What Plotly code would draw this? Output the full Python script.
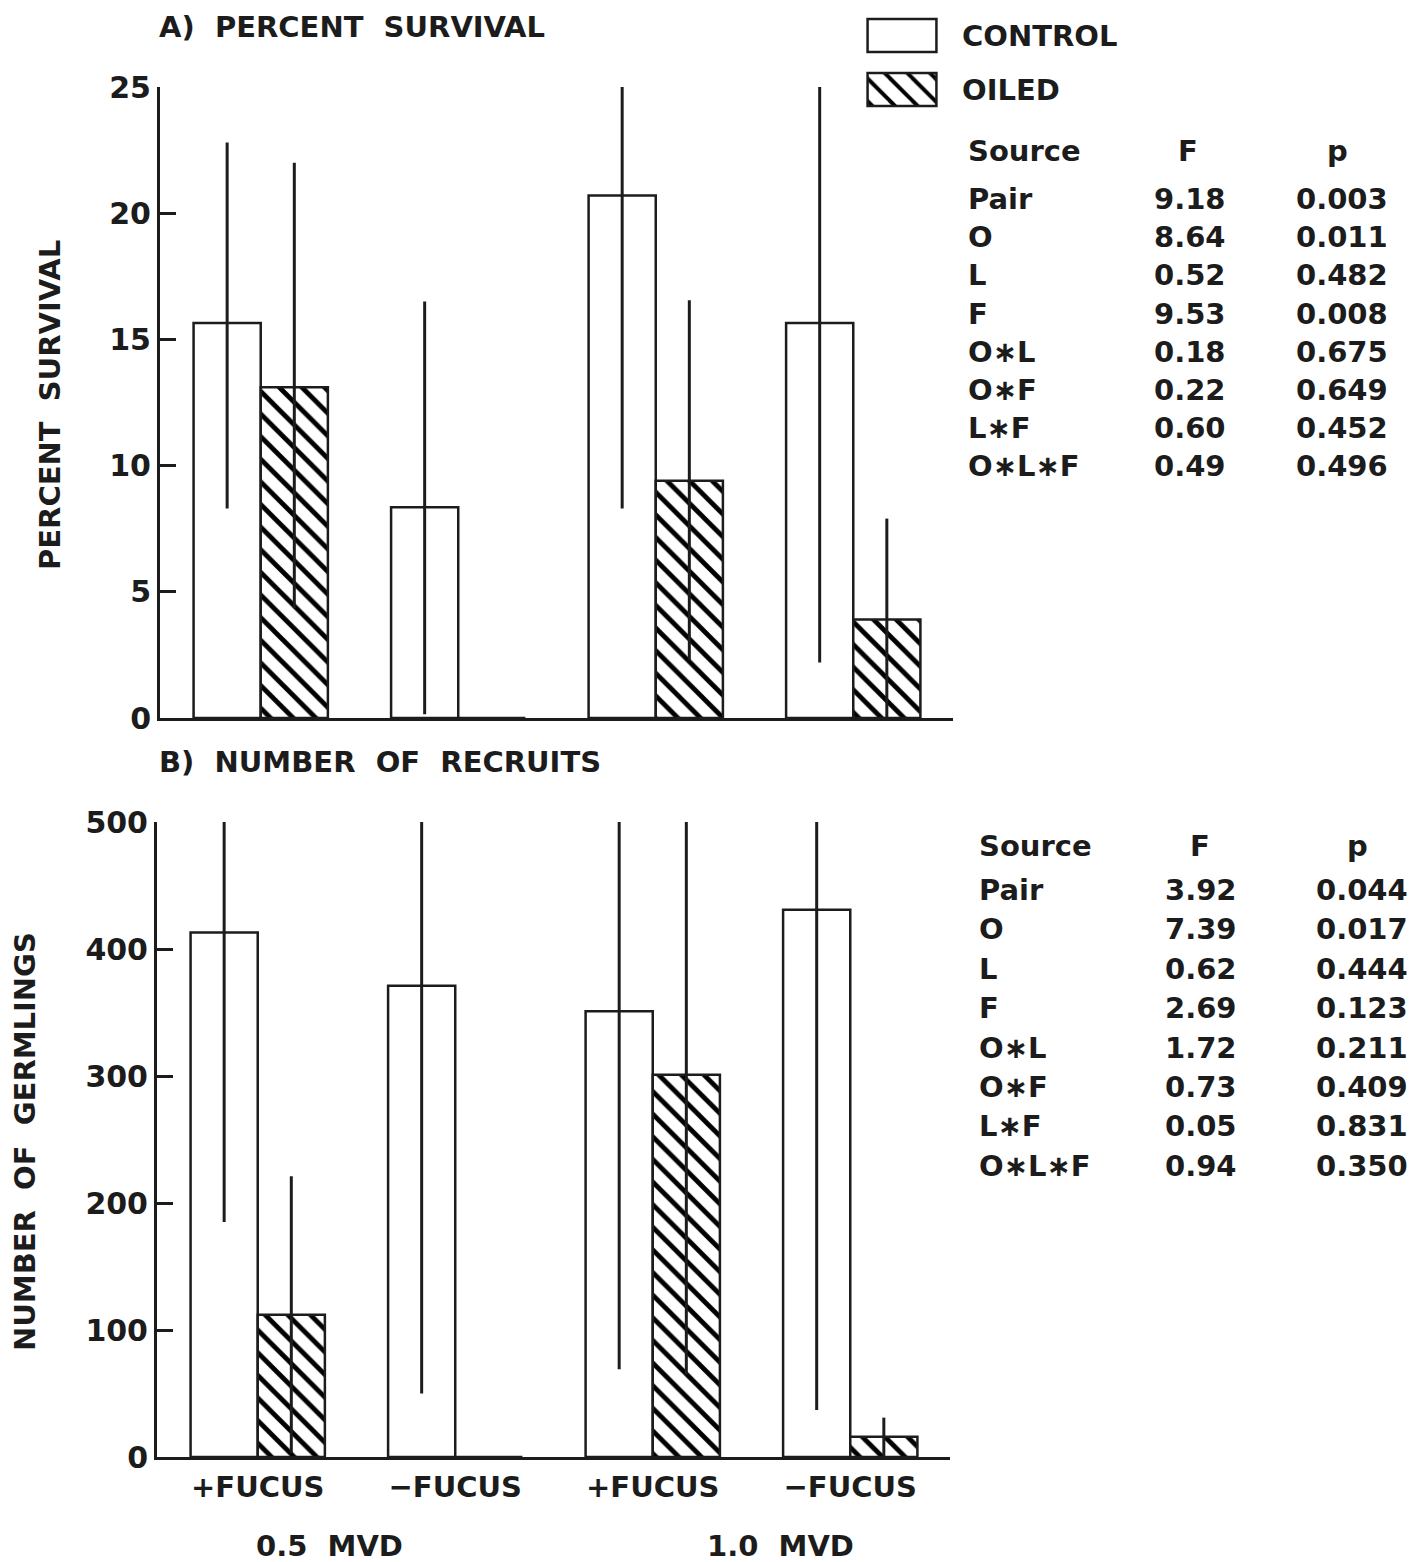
import plotly.graph_objects as go

# ---------------- data ----------------
group_labels = ["+FUCUS", "−FUCUS", "+FUCUS", "−FUCUS"]
group_pos = [0, 1, 2, 3]
mvd_labels = ["0.5  MVD", "1.0  MVD"]

surv_control = [15.65, 8.35, 20.7, 15.65]
surv_control_lo = [8.3, 0.15, 8.3, 2.2]
surv_control_hi = [22.8, 16.5, 25.0, 25.0]
surv_oiled = [13.1, 0.0, 9.4, 3.9]
surv_oiled_lo = [4.35, 0.0, 2.3, 0.0]
surv_oiled_hi = [22.0, 0.0, 16.55, 7.9]

rec_control = [413, 371, 351, 431]
rec_control_lo = [185, 50, 69, 37]
rec_control_hi = [500, 500, 500, 500]
rec_oiled = [112, 0, 301, 16]
rec_oiled_lo = [3, 0, 65, 0]
rec_oiled_hi = [221, 0, 500, 31]

surv_ticks = [0, 5, 10, 15, 20, 25]
rec_ticks = [0, 100, 200, 300, 400, 500]

sources = ["Pair", "O", "L", "F", "O∗L", "O∗F", "L∗F", "O∗L∗F"]
F_A = ["9.18", "8.64", "0.52", "9.53", "0.18", "0.22", "0.60", "0.49"]
p_A = ["0.003", "0.011", "0.482", "0.008", "0.675", "0.649", "0.452", "0.496"]
F_B = ["3.92", "7.39", "0.62", "2.69", "1.72", "0.73", "0.05", "0.94"]
p_B = ["0.044", "0.017", "0.444", "0.123", "0.211", "0.409", "0.831", "0.350"]

legend_names = ["CONTROL", "OILED"]

# ---------------- styling ----------------
OFF = 8                      # page body margin of the browser
W, H = 1426 - OFF, 1562 - OFF
INK = "#1c1c1c"
FONT = "DejaVu Sans"


def fnt(size=29):
    return dict(family=FONT, size=size, color=INK, weight="bold")


def px(x):
    return (x - OFF) / W


def py(y):
    return 1 - (y - OFF) / H


def err(val, lo, hi):
    return dict(type="data", symmetric=False,
                array=[h - v for v, h in zip(val, hi)],
                arrayminus=[v - l for v, l in zip(val, lo)],
                color=INK, thickness=3, width=0, visible=True)


def hatch(n):
    return dict(shape=["\\"] * n, fgcolor="#000000", fgopacity=1,
                bgcolor="white", size=16, solidity=0.3)


outline = dict(color=INK, width=2.5)

fig = go.Figure()

# Panel A
fig.add_trace(go.Bar(x=group_pos, y=surv_control, name="CONTROL",
                     marker=dict(color="white", line=outline),
                     error_y=err(surv_control, surv_control_lo, surv_control_hi),
                     xaxis="x", yaxis="y", showlegend=False))
fig.add_trace(go.Bar(x=group_pos, y=surv_oiled, name="OILED",
                     marker=dict(color="white", line=outline, pattern=hatch(len(surv_oiled))),
                     error_y=err(surv_oiled, surv_oiled_lo, surv_oiled_hi),
                     xaxis="x", yaxis="y", showlegend=False))
# Panel B
fig.add_trace(go.Bar(x=group_pos, y=rec_control, name="CONTROL",
                     marker=dict(color="white", line=outline),
                     error_y=err(rec_control, rec_control_lo, rec_control_hi),
                     xaxis="x2", yaxis="y2", showlegend=False))
fig.add_trace(go.Bar(x=group_pos, y=rec_oiled, name="OILED",
                     marker=dict(color="white", line=outline, pattern=hatch(len(rec_oiled))),
                     error_y=err(rec_oiled, rec_oiled_lo, rec_oiled_hi),
                     xaxis="x2", yaxis="y2", showlegend=False))

# Legend swatches (drawn as bars in a small hidden subplot)
fig.add_trace(go.Bar(y=[1, 0], x=[1, 1], orientation="h", width=0.61,
                     marker=dict(color="white", line=outline,
                                 pattern=dict(shape=["", "\\"], fgcolor="#000000",
                                              fgopacity=1, bgcolor="white",
                                              size=16, solidity=0.25)),
                     xaxis="x3", yaxis="y3", showlegend=False, hoverinfo="skip"))

ax_common = dict(showline=True, linewidth=3, linecolor=INK, showgrid=False,
                 zeroline=False, mirror=False, automargin=False)

fig.update_layout(
    width=W, height=H,
    margin=dict(l=0, r=0, t=0, b=0, pad=0, autoexpand=False),
    paper_bgcolor="white", plot_bgcolor="rgba(0,0,0,0)",
    barmode="group", bargap=0.32, bargroupgap=0,
    showlegend=False,
    xaxis=dict(domain=[px(160), px(953)], range=[-0.51, 3.505],
               tickvals=group_pos, showticklabels=False, ticks="",
               anchor="y", **ax_common),
    yaxis=dict(domain=[py(718), py(87)], range=[0, 25], tickvals=surv_ticks,
               ticks="inside", ticklen=16, tickwidth=3, tickcolor=INK,
               tickfont=fnt(30), anchor="x", **ax_common),
    xaxis2=dict(domain=[px(157), px(950)], range=[-0.51, 3.505],
                tickvals=group_pos, ticktext=group_labels, ticks="",
                tickfont=fnt(29), ticklabelstandoff=2,
                anchor="y2", **ax_common),
    yaxis2=dict(domain=[py(1457), py(822)], range=[0, 500], tickvals=rec_ticks,
                ticks="inside", ticklen=16, tickwidth=3, tickcolor=INK,
                tickfont=fnt(30), anchor="x2", **ax_common),
    xaxis3=dict(domain=[px(865.5), px(938.5)], range=[-0.03, 1.03],
                visible=False, anchor="y3", fixedrange=True, automargin=False),
    yaxis3=dict(domain=[py(116.5), py(8.5)], range=[-0.5, 1.5],
                visible=False, anchor="x3", fixedrange=True, automargin=False),
)

ann = []
# panel titles
ann.append(dict(text="A)  PERCENT  SURVIVAL", x=px(157), y=py(27),
                xanchor="left", yanchor="middle", font=fnt(29)))
ann.append(dict(text="B)  NUMBER  OF  RECRUITS", x=px(157), y=py(762),
                xanchor="left", yanchor="middle", font=fnt(29)))
# y axis titles
ann.append(dict(text="PERCENT  SURVIVAL", x=px(50), y=py(405), textangle=-90,
                xanchor="center", yanchor="middle", font=fnt(29)))
ann.append(dict(text="NUMBER  OF  GERMLINGS", x=px(25), y=py(1142), textangle=-90,
                xanchor="center", yanchor="middle", font=fnt(29)))
# MVD labels
for lab, cx in zip(mvd_labels, [329, 780]):
    ann.append(dict(text=lab, x=px(cx), y=py(1546), xanchor="center",
                    yanchor="middle", font=fnt(29)))
# legend labels
for lab, cy in zip(legend_names, [36, 90]):
    ann.append(dict(text=lab, x=px(960), y=py(cy), xanchor="left",
                    yanchor="middle", font=fnt(29)))


def table(src_x, f_center, f_right, p_center, p_right, head_y, row0, step, Fv, pv):
    out = []
    out.append(dict(text="Source", x=px(src_x), y=py(head_y), xanchor="left",
                    yanchor="middle", font=fnt(29)))
    out.append(dict(text="F", x=px(f_center), y=py(head_y), xanchor="center",
                    yanchor="middle", font=fnt(29)))
    out.append(dict(text="p", x=px(p_center), y=py(head_y), xanchor="center",
                    yanchor="middle", font=fnt(29)))
    for i, (s, f, p) in enumerate(zip(sources, Fv, pv)):
        yy = py(row0 + step * i)
        out.append(dict(text=s, x=px(src_x), y=yy, xanchor="left",
                        yanchor="middle", font=fnt(29)))
        out.append(dict(text=f, x=px(f_right), y=yy, xanchor="right",
                        yanchor="middle", font=fnt(29)))
        out.append(dict(text=p, x=px(p_right), y=yy, xanchor="right",
                        yanchor="middle", font=fnt(29)))
    return out


ann += table(966, 1188, 1228, 1337, 1390, 151, 199, 38.2, F_A, p_A)
ann += table(977, 1200, 1239, 1357, 1410, 846, 890, 39.4, F_B, p_B)

for a in ann:
    a.update(xref="paper", yref="paper", showarrow=False)
fig.update_layout(annotations=ann)

fig.write_html("out.html")
